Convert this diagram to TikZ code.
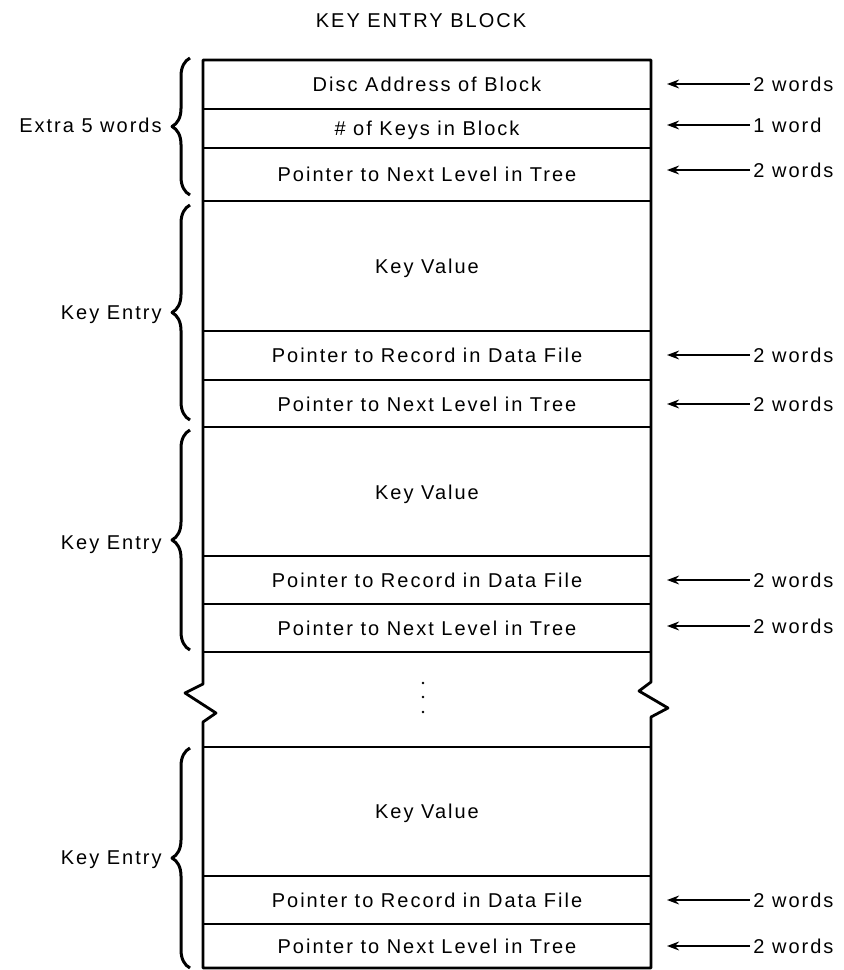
\documentclass[tikz,border=0pt]{standalone}
\usepackage{fontspec}
\setmainfont{Liberation Sans}[LetterSpace=10]
\usetikzlibrary{arrows.meta,decorations.pathreplacing}

\begin{document}
\begin{tikzpicture}[x=0.5pt, y=-0.5pt, line width=1.4pt, line join=round,
    lbl/.style={font=\fontsize{10}{12}\selectfont, inner sep=1pt, text height=7.2pt, text depth=0pt},
    ptr/.style={line width=1pt, -{Stealth[length=6pt,width=4.4pt]}},
    brc/.style={line width=1.5pt, decorate, decoration={brace, amplitude=9pt}}]
    \useasboundingbox (0,0) rectangle (843,970);
    % outline of the block, broken at the gap
    \draw (203,60) -- (203,684) -- (185,693) -- (216,713) -- (203,722) -- (203,968)
        -- (651,968) -- (651,717) -- (668,708) -- (639,691) -- (651,682) -- (651,60) -- cycle;
    \foreach \y in {109,148,201,331,380,427,556,604,652,747,876,924}
        \draw (203,\y) -- (651,\y);
    % dots in the gap
    \foreach \y in {683,697,712}
        \fill (423,\y) circle (1.4);
    % title and fields
    \node[lbl] (title) at (421,20) {KEY ENTRY BLOCK};
    \node[lbl] (disc) at (427,84) {Disc Address of Block};
    \node[lbl] (nkeys) at (427,128) {\# of Keys in Block};
    \node[lbl] (next0) at (427,174) {Pointer to Next Level in Tree};
    \node[lbl] (kv1) at (427,266) {Key Value};
    \node[lbl] (rec1) at (427,355) {Pointer to Record in Data File};
    \node[lbl] (next1) at (427,404) {Pointer to Next Level in Tree};
    \node[lbl] (kv2) at (427,492) {Key Value};
    \node[lbl] (rec2) at (427,580) {Pointer to Record in Data File};
    \node[lbl] (next2) at (427,628) {Pointer to Next Level in Tree};
    \node[lbl] (kv3) at (427,811) {Key Value};
    \node[lbl] (rec3) at (427,900) {Pointer to Record in Data File};
    \node[lbl] (next3) at (427,946) {Pointer to Next Level in Tree};
    % sizes on the right
    \foreach \y/\t [count=\i] in {84/2 words,125/1 word,170/2 words,355/2 words,404/2 words,
            580/2 words,626/2 words,900/2 words,946/2 words} {
        \node[lbl, anchor=west] (w\i) at (750,\y) {\t};
        \coordinate (t\i) at (667,\y);
        \draw[ptr] (w\i) -- (t\i);
    }
    % braces on the left
    \draw[brc] (190,195) -- (190,58);
    \draw[brc] (190,420) -- (190,205);
    \draw[brc] (190,650) -- (190,430);
    \draw[brc] (190,968) -- (190,748);
    \node[lbl, anchor=east] (extra) at (165,125) {Extra 5 words};
    \node[lbl, anchor=east] (ke1) at (165,312) {Key Entry};
    \node[lbl, anchor=east] (ke2) at (165,542) {Key Entry};
    \node[lbl, anchor=east] (ke3) at (165,857) {Key Entry};
\end{tikzpicture}
\end{document}
